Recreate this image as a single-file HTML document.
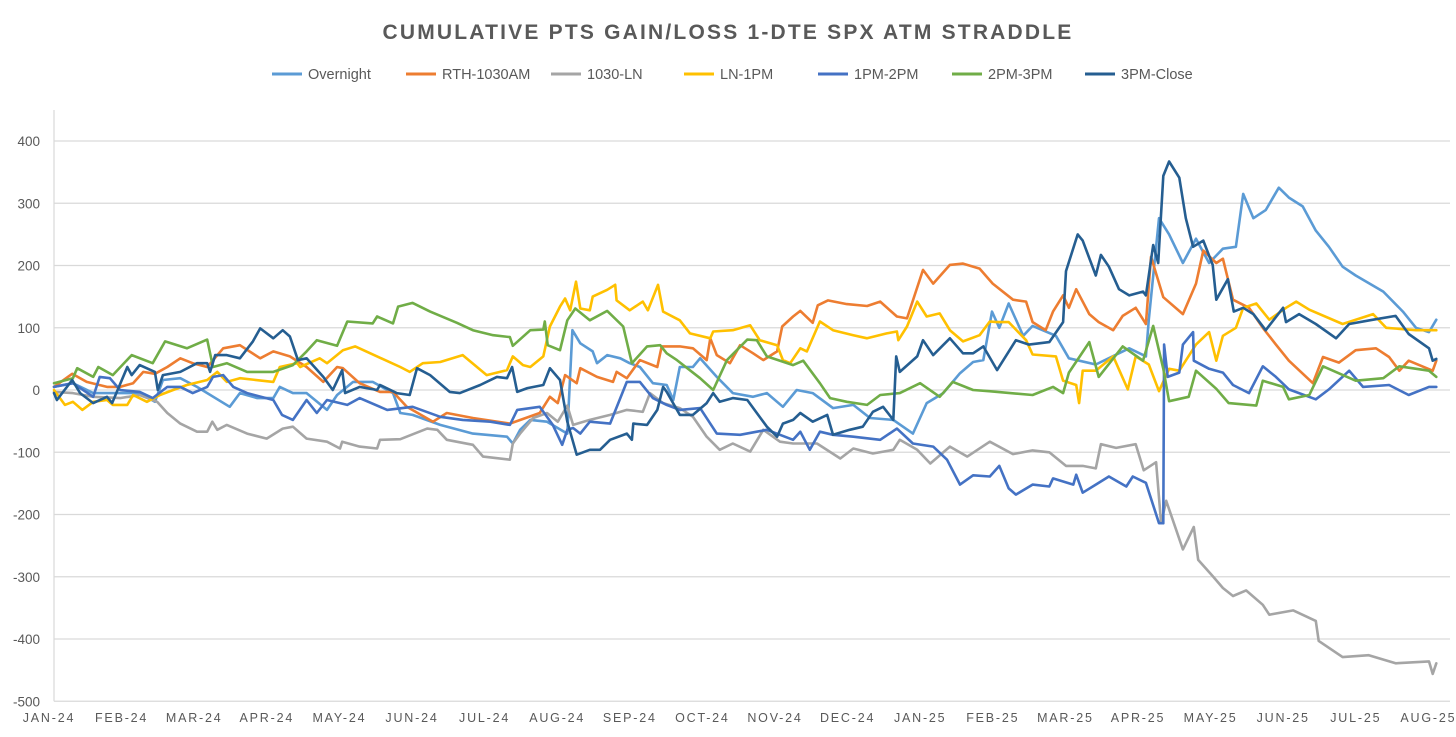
<!DOCTYPE html>
<html>
<head>
<meta charset="utf-8">
<style>
  html,body{margin:0;padding:0;background:#fff;}
  body{width:1456px;height:737px;overflow:hidden;font-family:"Liberation Sans",Arial,sans-serif;}
  svg{display:block;}
</style>
</head>
<body>
<svg id="chart" width="1456" height="737" viewBox="0 0 1456 737" xmlns="http://www.w3.org/2000/svg">
  <text x="728" y="39" text-anchor="middle" font-family="Liberation Sans, Arial, sans-serif" font-size="21" font-weight="bold" fill="#595959" letter-spacing="2.2">CUMULATIVE PTS GAIN/LOSS 1-DTE SPX ATM STRADDLE</text>
  <g id="legend"></g>
  <g id="grid"></g>
  <g id="yaxis"></g>
  <g id="xaxis"></g>
  <g id="series"></g>
</svg>
<script>
// ---- data (t = months since Jan-2024, v = cumulative points) ----
const seriesNames = ["Overnight","RTH-1030AM","1030-LN","LN-1PM","1PM-2PM","2PM-3PM","3PM-Close"];
const monthLabels = ["JAN-24","FEB-24","MAR-24","APR-24","MAY-24","JUN-24","JUL-24","AUG-24","SEP-24","OCT-24","NOV-24","DEC-24","JAN-25","FEB-25","MAR-25","APR-25","MAY-25","JUN-25","JUL-25","AUG-25"];
const yTicks = [400,300,200,100,0,-100,-200,-300,-400,-500];

const overnight = [[0,5],[0.26,11],[0.54,-5],[1.18,-5],[1.39,-19],[1.5,16],[1.74,19],[1.97,5],[2.42,-27],[2.56,-5],[2.8,-13],[3.02,-13],[3.11,5],[3.29,-5],[3.48,-5],[3.76,-32],[3.9,-8],[4.12,13],[4.39,13],[4.67,-5],[4.77,-37],[4.94,-40],[5.32,-56],[5.77,-70],[6.24,-75],[6.32,-86],[6.42,-64],[6.56,-48],[6.79,-51],[7.07,-70],[7.14,96],[7.25,75],[7.42,62],[7.48,43],[7.62,56],[7.8,51],[7.93,43],[8.07,37],[8.25,11],[8.44,8],[8.53,-16],[8.62,37],[8.8,37],[8.9,51],[9.13,21],[9.35,-5],[9.63,-11],[9.82,-5],[10.04,-27],[10.23,0],[10.45,-5],[10.73,-29],[11.01,-24],[11.24,-45],[11.56,-48],[11.83,-70],[12.02,-21],[12.25,-5],[12.48,27],[12.66,45],[12.8,48],[12.92,126],[13.02,100],[13.15,139],[13.35,87],[13.48,103],[13.8,87],[13.98,51],[14.35,41],[14.81,67],[15.04,54],[15.08,113],[15.22,276],[15.36,250],[15.55,204],[15.73,243],[15.91,204],[16.1,227],[16.28,230],[16.38,315],[16.52,276],[16.69,289],[16.87,325],[17.01,309],[17.2,295],[17.38,256],[17.56,230],[17.75,198],[17.93,184],[18.31,158],[18.58,126],[18.76,100],[18.94,93],[19.04,113]];

const rth1030 = [[0,5],[0.25,26],[0.45,13],[0.73,5],[0.91,5],[1.09,11],[1.23,29],[1.39,26],[1.56,37],[1.74,51],[1.91,43],[2.11,37],[2.33,67],[2.56,72],[2.84,51],[3.02,62],[3.25,54],[3.48,37],[3.71,13],[3.9,37],[3.98,35],[4.21,11],[4.49,-3],[4.67,-3],[4.86,-27],[5.22,-51],[5.41,-37],[5.77,-45],[6.28,-54],[6.69,-37],[6.83,-11],[6.94,-21],[7.04,24],[7.2,11],[7.25,35],[7.48,21],[7.7,13],[7.75,29],[7.89,19],[8.07,48],[8.31,37],[8.37,70],[8.62,70],[8.8,67],[8.99,48],[9.04,83],[9.13,56],[9.31,43],[9.45,72],[9.63,59],[9.77,48],[9.96,62],[10.03,102],[10.18,118],[10.28,127],[10.45,108],[10.52,136],[10.66,144],[10.92,138],[11.2,135],[11.38,142],[11.61,118],[11.75,115],[11.97,193],[12.11,171],[12.34,201],[12.52,203],[12.75,195],[12.93,171],[13.21,145],[13.39,142],[13.48,109],[13.66,96],[13.76,126],[13.9,152],[13.98,132],[14.08,162],[14.26,122],[14.39,109],[14.59,96],[14.72,119],[14.9,132],[15.04,106],[15.11,214],[15.28,149],[15.55,122],[15.73,171],[15.83,224],[16.01,204],[16.1,211],[16.24,145],[16.46,132],[16.65,100],[16.83,73],[17.01,47],[17.34,11],[17.48,53],[17.7,44],[17.93,64],[18.21,67],[18.39,53],[18.53,31],[18.66,47],[18.99,31],[19.04,47]];

const ln1030 = [[0,-3],[0.26,-5],[0.54,-11],[0.91,-13],[1.18,-8],[1.42,-19],[1.56,-37],[1.74,-54],[1.97,-67],[2.11,-67],[2.18,-51],[2.25,-64],[2.38,-56],[2.66,-70],[2.93,-78],[3.15,-62],[3.29,-59],[3.48,-78],[3.76,-83],[3.94,-94],[3.97,-83],[4.21,-91],[4.45,-94],[4.49,-80],[4.77,-79],[5.14,-62],[5.28,-64],[5.41,-80],[5.77,-88],[5.91,-107],[6.28,-112],[6.32,-86],[6.42,-70],[6.6,-45],[6.79,-37],[6.94,-51],[7.07,-25],[7.15,-56],[7.38,-48],[7.66,-40],[7.89,-32],[8.11,-35],[8.21,-5],[8.39,-21],[8.62,-29],[8.8,-43],[8.99,-75],[9.17,-96],[9.35,-86],[9.59,-99],[9.77,-64],[10.0,-83],[10.18,-86],[10.51,-86],[10.83,-110],[11.01,-94],[11.28,-102],[11.56,-96],[11.65,-80],[11.89,-96],[12.07,-118],[12.34,-91],[12.58,-107],[12.89,-83],[13.21,-103],[13.48,-97],[13.71,-100],[13.94,-122],[14.17,-122],[14.35,-126],[14.42,-87],[14.63,-93],[14.9,-87],[15.01,-129],[15.18,-116],[15.25,-214],[15.32,-178],[15.55,-256],[15.7,-220],[15.76,-273],[15.96,-299],[16.1,-318],[16.24,-331],[16.42,-322],[16.65,-345],[16.74,-361],[17.07,-354],[17.38,-371],[17.42,-403],[17.75,-429],[18.11,-426],[18.48,-439],[18.94,-436],[18.99,-456],[19.04,-439]];

const ln1pm = [[0,0],[0.15,-24],[0.26,-19],[0.39,-32],[0.54,-19],[0.73,-16],[0.81,-24],[1.01,-24],[1.09,-8],[1.28,-19],[1.46,-8],[1.64,0],[1.83,8],[2.11,16],[2.25,29],[2.38,13],[2.56,19],[3.02,13],[3.11,37],[3.35,43],[3.39,37],[3.66,51],[3.76,43],[3.98,64],[4.15,70],[4.45,54],[4.77,37],[4.9,29],[5.08,43],[5.32,45],[5.63,56],[5.96,24],[6.24,32],[6.32,54],[6.46,40],[6.56,37],[6.74,54],[6.83,102],[6.97,134],[7.04,147],[7.11,128],[7.19,174],[7.25,131],[7.38,128],[7.42,150],[7.62,161],[7.73,169],[7.75,144],[7.93,128],[8.11,142],[8.18,128],[8.32,169],[8.39,126],[8.62,112],[8.76,91],[9.04,83],[9.08,94],[9.35,96],[9.59,104],[9.72,80],[9.96,72],[10.04,48],[10.14,43],[10.28,67],[10.37,62],[10.55,110],[10.73,96],[11.01,88],[11.2,83],[11.47,91],[11.61,94],[11.63,80],[11.75,102],[11.89,142],[12.02,118],[12.2,123],[12.34,96],[12.52,78],[12.75,88],[12.89,110],[12.98,109],[13.15,109],[13.39,80],[13.48,57],[13.8,54],[13.9,15],[14.08,8],[14.12,-21],[14.17,31],[14.35,31],[14.59,54],[14.79,1],[14.9,54],[15.08,41],[15.22,-2],[15.36,34],[15.5,31],[15.73,73],[15.91,93],[16.01,47],[16.1,87],[16.28,100],[16.38,132],[16.56,139],[16.74,113],[16.97,132],[17.11,142],[17.29,129],[17.75,106],[18.17,122],[18.35,100],[18.76,96],[19.04,96]];

const pm1to2 = [[0,5],[0.26,11],[0.54,-11],[0.63,21],[0.77,19],[0.91,0],[1.18,-3],[1.36,-13],[1.56,5],[1.74,5],[1.91,-5],[2.11,5],[2.19,21],[2.33,24],[2.47,5],[2.66,-5],[3.02,-16],[3.14,-40],[3.29,-48],[3.48,-16],[3.62,-37],[3.76,-16],[4.04,-24],[4.21,-13],[4.59,-32],[4.94,-27],[5.32,-43],[5.63,-48],[6.01,-51],[6.28,-56],[6.38,-32],[6.69,-27],[6.87,-56],[7.0,-88],[7.07,-64],[7.15,-61],[7.25,-70],[7.38,-51],[7.66,-54],[7.89,13],[8.07,13],[8.25,-13],[8.44,-24],[8.62,-32],[8.9,-29],[9.13,-70],[9.45,-72],[9.68,-67],[9.82,-64],[10.0,-72],[10.18,-80],[10.28,-67],[10.41,-96],[10.55,-67],[10.73,-72],[11.01,-75],[11.38,-80],[11.61,-62],[11.83,-86],[12.11,-91],[12.3,-112],[12.48,-152],[12.66,-137],[12.89,-139],[13.02,-122],[13.15,-158],[13.25,-168],[13.48,-152],[13.71,-155],[13.76,-142],[14.04,-152],[14.08,-136],[14.17,-165],[14.35,-152],[14.53,-139],[14.77,-155],[14.86,-139],[15.04,-149],[15.22,-214],[15.28,-214],[15.29,73],[15.34,21],[15.5,28],[15.55,73],[15.69,93],[15.7,47],[15.91,34],[16.1,28],[16.24,8],[16.46,-5],[16.65,38],[16.83,21],[17.01,1],[17.38,-15],[17.56,1],[17.84,31],[18.03,5],[18.39,8],[18.66,-8],[18.94,5],[19.04,5]];

const pm2to3 = [[0,11],[0.26,19],[0.32,35],[0.54,21],[0.61,37],[0.81,24],[1.07,56],[1.36,43],[1.53,78],[1.83,67],[2.11,81],[2.19,37],[2.38,43],[2.66,29],[3.02,29],[3.29,40],[3.48,62],[3.62,80],[3.9,71],[4.04,110],[4.39,107],[4.45,118],[4.67,107],[4.74,134],[4.94,140],[5.18,126],[5.55,108],[5.77,96],[6.05,88],[6.28,85],[6.32,71],[6.56,96],[6.74,97],[6.76,110],[6.8,72],[6.97,64],[7.07,112],[7.18,131],[7.38,112],[7.62,127],[7.84,102],[7.96,43],[8.17,70],[8.35,72],[8.44,59],[8.58,48],[8.9,19],[9.08,0],[9.27,48],[9.55,81],[9.68,80],[9.82,54],[10.18,40],[10.32,47],[10.55,11],[10.69,-13],[10.92,-19],[11.2,-24],[11.38,-8],[11.56,-6],[11.65,-5],[11.93,11],[12.2,-11],[12.38,13],[12.66,0],[12.88,-2],[13.48,-8],[13.76,5],[13.9,-5],[13.98,28],[14.26,77],[14.39,21],[14.72,70],[15.0,47],[15.14,103],[15.28,34],[15.36,-18],[15.63,-11],[15.73,31],[16.01,2],[16.18,-21],[16.56,-25],[16.65,15],[16.93,5],[17.01,-15],[17.29,-8],[17.48,38],[17.93,15],[18.31,19],[18.53,38],[18.94,31],[19.04,21]];

const pm3close = [[0,-5],[0.04,-16],[0.25,16],[0.36,-5],[0.54,-21],[0.73,-11],[0.8,-21],[1.01,37],[1.07,24],[1.18,40],[1.39,29],[1.43,0],[1.5,24],[1.74,29],[1.97,43],[2.11,43],[2.15,29],[2.22,56],[2.38,56],[2.56,51],[2.74,78],[2.84,99],[3.02,83],[3.15,96],[3.25,86],[3.36,48],[3.48,51],[3.71,21],[3.84,0],[3.97,32],[4.01,-5],[4.21,5],[4.45,0],[4.49,8],[4.72,-5],[4.9,-8],[5.0,35],[5.18,24],[5.45,-3],[5.59,-5],[5.87,8],[6.1,21],[6.24,19],[6.31,37],[6.38,-3],[6.52,3],[6.74,8],[6.83,35],[6.97,16],[7.07,-51],[7.2,-104],[7.38,-96],[7.52,-96],[7.66,-80],[7.89,-70],[7.96,-80],[7.98,-54],[8.17,-56],[8.31,-32],[8.39,5],[8.44,-3],[8.62,-40],[8.8,-40],[8.99,-21],[9.08,-5],[9.17,-19],[9.35,-13],[9.55,-16],[9.82,-59],[9.96,-75],[10.04,-54],[10.18,-48],[10.28,-37],[10.45,-51],[10.65,-40],[10.73,-72],[10.96,-64],[11.14,-59],[11.28,-35],[11.42,-27],[11.56,-48],[11.6,54],[11.65,29],[11.89,54],[11.97,80],[12.11,56],[12.34,83],[12.52,59],[12.66,59],[12.8,70],[12.99,32],[13.25,80],[13.43,73],[13.71,77],[13.9,109],[13.94,191],[14.1,250],[14.17,240],[14.35,184],[14.42,217],[14.53,198],[14.67,162],[14.81,152],[15.0,158],[15.04,152],[15.14,233],[15.21,204],[15.28,344],[15.36,367],[15.5,341],[15.59,276],[15.69,230],[15.83,240],[15.96,201],[16.01,145],[16.17,178],[16.25,126],[16.38,132],[16.52,122],[16.69,96],[16.93,132],[16.97,109],[17.15,122],[17.38,106],[17.66,83],[17.84,106],[18.17,113],[18.48,119],[18.66,90],[18.94,67],[18.99,47],[19.04,50]];

const seriesData = [overnight, rth1030, ln1030, ln1pm, pm1to2, pm2to3, pm3close];
const seriesColors = ["#5B9BD5","#ED7D31","#A5A5A5","#FFC000","#4472C4","#70AD47","#255E91"];
const seriesKeys = ["overnight","rth-1030am","1030-ln","ln-1pm","1pm-2pm","2pm-3pm","3pm-close"];

// ---- axes ----
const plotLeft = 54, plotRight = 1450, monthW = 72.6;
const y0 = 390, pxPer = 0.6225;
function xScale(t){ return plotLeft + t*monthW; }
function yScale(v){ return y0 - v*pxPer; }

const NS = "http://www.w3.org/2000/svg";
function mk(tag, attrs, parent){
  const e = document.createElementNS(NS, tag);
  for (const k in attrs) e.setAttribute(k, attrs[k]);
  parent.appendChild(e);
  return e;
}

const grid = document.getElementById('grid');
const yaxis = document.getElementById('yaxis');
yTicks.forEach(v => {
  const y = yScale(v);
  if (v !== -500) {
    const l = mk('line', {x1:plotLeft, x2:plotRight, y1:y, y2:y, stroke:'#d9d9d9', 'stroke-width':1.2}, grid);
    
    
  }
  const t = mk('text', {x:40, y:y+5, 'text-anchor':'end', 'font-size':13.5, fill:'#595959', 'font-family':'Liberation Sans, Arial, sans-serif'}, yaxis);
  t.textContent = v;
  
  
});
const ax = mk('line', {x1:plotLeft, x2:plotLeft, y1:110, y2:yScale(-500), stroke:'#d9d9d9', 'stroke-width':1.2}, yaxis);


const bx = mk('line', {x1:plotLeft, x2:plotRight, y1:yScale(-500), y2:yScale(-500), stroke:'#d9d9d9', 'stroke-width':1.2}, grid);



const xaxis = document.getElementById('xaxis');
monthLabels.forEach((lab, i) => {
  const t = mk('text', {x:xScale(i)-5, y:722, 'text-anchor':'middle', 'font-size':12.5, fill:'#595959', 'letter-spacing':1.8, 'font-family':'Liberation Sans, Arial, sans-serif'}, xaxis);
  t.textContent = lab;
  
  
});

// ---- series ----
const sg = document.getElementById('series');
seriesData.forEach((arr, si) => {
  const d = arr.map((p, i) => (i ? 'L' : 'M') + xScale(p[0]).toFixed(1) + ',' + yScale(p[1]).toFixed(1)).join(' ');
  const path = mk('path', {d:d, fill:'none', stroke:seriesColors[si], 'stroke-width':2.6, 'stroke-linejoin':'round', 'stroke-linecap':'round'}, sg);
  
  
});

// ---- legend ----
const lg = document.getElementById('legend');
const legendX = [272, 406, 551, 684, 818, 952, 1085];
seriesNames.forEach((n, i) => {
  const g = mk('g', {}, lg);
  
  
  mk('line', {x1:legendX[i], x2:legendX[i]+30, y1:74, y2:74, stroke:seriesColors[i], 'stroke-width':3}, g);
  const t = mk('text', {x:legendX[i]+36, y:79, 'font-size':14.5, fill:'#595959', 'font-family':'Liberation Sans, Arial, sans-serif'}, g);
  t.textContent = n;
});
</script>
</body>
</html>
